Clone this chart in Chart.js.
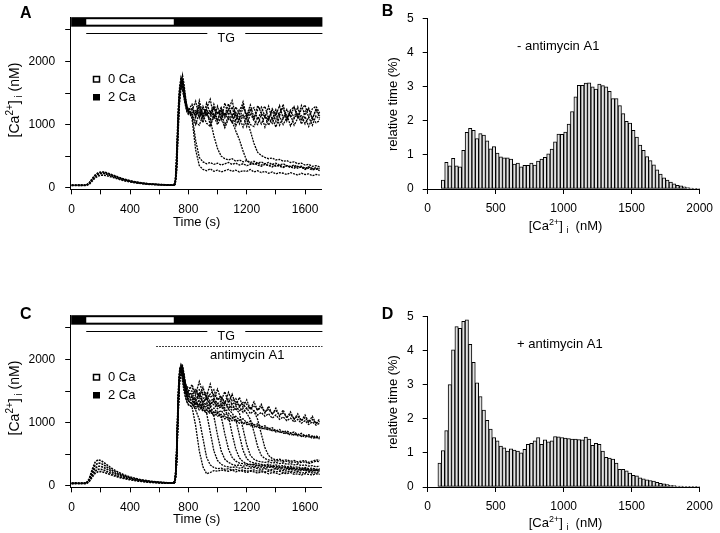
<!DOCTYPE html>
<html>
<head>
<meta charset="utf-8">
<script src="https://cdn.jsdelivr.net/npm/chart.js@4.4.1/dist/chart.umd.min.js"></script>
<style>
  body { margin: 0; background: #fff; }
  #page { position: relative; width: 720px; height: 533px; overflow: hidden; background: #fff; }
  canvas { position: absolute; }
  .t { position: absolute; white-space: nowrap; line-height: 1; color: #000;
       font-family: "Liberation Sans", Arial, sans-serif; font-size: 13px; }
  .letter { font-weight: bold; font-size: 16px; }
  .big { font-size: 14px; }
  .xt { transform: translateX(-50%); }
  .yt { transform: translate(-50%, -50%) rotate(-90deg); }
  .sup { font-size: 9px; position: relative; top: -5px; }
  .sub { font-size: 9px; position: relative; top: 3px; }
  .big .sup { font-size: 10px; top: -6px; }
  .big .sub { font-size: 10px; top: 3px; }
</style>
</head>
<body>
<div id="page">
  <canvas id="chartA" width="360" height="235" style="left:0;top:0"></canvas>
  <canvas id="chartB" width="360" height="235" style="left:360px;top:0"></canvas>
  <canvas id="chartC" width="360" height="235" style="left:0;top:298px"></canvas>
  <canvas id="chartD" width="360" height="235" style="left:360px;top:298px"></canvas>

  <div class="t letter" style="left:20px;top:4.6px">A</div>
  <div class="t letter" style="left:381.7px;top:2.9px">B</div>
  <div class="t letter" style="left:20px;top:306.2px">C</div>
  <div class="t letter" style="left:381.7px;top:306.2px">D</div>

  <div class="t yt big" style="left:13.5px;top:100px">[Ca<span class="sup">2+</span>]<span class="sub"> i</span> (nM)</div>
  <div class="t yt big" style="left:13.5px;top:398px">[Ca<span class="sup">2+</span>]<span class="sub"> i</span> (nM)</div>
  <div class="t xt" style="left:196.7px;top:215px">Time (s)</div>
  <div class="t xt" style="left:196.7px;top:512px">Time (s)</div>

  <div class="t yt" style="left:391.7px;top:104px">relative time (%)</div>
  <div class="t yt" style="left:391.7px;top:402px">relative time (%)</div>
  <div class="t xt" style="left:565.5px;top:219px">[Ca<span class="sup">2+</span>] <span class="sub">i</span>&nbsp; (nM)</div>
  <div class="t xt" style="left:565.5px;top:516px">[Ca<span class="sup">2+</span>] <span class="sub">i</span>&nbsp; (nM)</div>
</div>

<script>
// axis ticks
const traceXTicks = [0, 200, 400, 600, 800, 1000, 1200, 1400, 1600];
const traceXLabels = [0, 400, 800, 1200, 1600];
const traceYTicks = [0, 500, 1000, 1500, 2000, 2500];
const traceYLabels = [0, 1000, 2000];
const histXTicks = [0, 500, 1000, 1500, 2000];
const histYTicks = [0, 1, 2, 3, 4, 5];

// time grids (s)
const timePre = [0, 20, 40, 60, 80, 100, 120, 140, 160, 180, 200, 220, 240, 260, 280, 300, 320, 340,
  360, 380, 400, 420, 440, 460, 480, 500, 520, 540, 560, 580, 600, 620, 640, 660, 680, 700];
const timePost = [700, 710, 720, 730, 740, 750, 760, 770, 780, 790, 800, 825, 850, 875, 900, 925, 950,
  975, 1000, 1025, 1050, 1075, 1100, 1125, 1150, 1175, 1200, 1225, 1250, 1275, 1300, 1325, 1350,
  1375, 1400, 1425, 1450, 1475, 1500, 1525, 1550, 1575, 1600, 1625, 1650, 1675, 1700];

// panel A, 0 Ca phase (nM)
const preA1 = [40, 41, 40, 42, 40, 41, 75, 140, 200, 235, 250, 250, 238, 222, 204, 186, 168, 152, 137, 124, 112, 101, 92, 84, 77, 71, 66, 62, 58, 55, 52, 50, 48, 46, 45, 45];
const preA2 = [38, 40, 39, 38, 40, 39, 65, 125, 180, 212, 225, 226, 215, 200, 184, 168, 152, 138, 125, 113, 102, 93, 85, 78, 72, 66, 62, 58, 55, 52, 49, 47, 45, 44, 43, 44];
const preA3 = [36, 37, 36, 38, 37, 36, 55, 105, 155, 185, 198, 200, 192, 180, 166, 152, 138, 125, 113, 102, 93, 85, 78, 72, 66, 61, 57, 54, 51, 48, 46, 44, 42, 41, 40, 41];
const preA4 = [42, 40, 43, 41, 42, 43, 70, 135, 190, 222, 238, 240, 228, 212, 196, 178, 160, 146, 130, 118, 107, 97, 89, 81, 75, 69, 64, 60, 57, 54, 51, 49, 47, 46, 45, 46];

// panel A, after Ca readdition (nM)
const aH1 = [45, 60, 350, 1000, 1450, 1650, 1720, 1580, 1420, 1300, 1240, 1250, 1120, 1310, 1090, 1340, 1180, 1290, 1060, 1260, 1150, 1330, 1100, 1280, 1170, 1360, 1120, 1250, 1070, 1300, 1190, 1110, 1290, 1080, 1240, 1140, 1320, 1060, 1230, 1280, 1100, 1300, 1150, 1260, 1090, 1250, 1140];
const aH2 = [45, 80, 500, 1150, 1550, 1700, 1600, 1450, 1320, 1220, 1180, 1150, 1000, 1190, 1030, 1230, 990, 1170, 1060, 1210, 980, 1140, 1030, 1190, 1010, 1150, 970, 1180, 1060, 1000, 1160, 960, 1120, 1020, 1180, 990, 1110, 1160, 980, 1100, 1170, 1010, 1130, 970, 1110, 1030, 1060];
const aH3 = [40, 50, 250, 850, 1350, 1600, 1780, 1650, 1450, 1280, 1230, 1320, 1120, 1380, 1140, 1260, 1400, 1110, 1290, 1080, 1340, 1150, 1280, 1060, 1240, 1310, 1100, 1220, 1270, 1080, 1210, 1290, 1090, 1230, 1050, 1200, 1260, 1080, 1220, 1110, 1280, 1060, 1210, 1250, 1090, 1230, 1110];
const aH4 = [45, 70, 420, 1050, 1500, 1620, 1550, 1420, 1300, 1200, 1160, 1180, 1040, 990, 1150, 1020, 970, 1140, 1000, 1120, 950, 1090, 1150, 980, 1110, 960, 1130, 1000, 970, 1120, 1010, 1140, 990, 1100, 960, 1130, 1000, 1110, 1160, 990, 1100, 1140, 1010, 1120, 990, 1140, 1080];
const aH5 = [50, 90, 600, 1250, 1600, 1750, 1680, 1500, 1350, 1250, 1200, 1230, 1370, 1110, 1290, 1150, 1080, 1320, 1160, 1270, 1110, 1240, 1380, 1130, 1080, 1280, 1150, 1310, 1110, 1230, 1280, 1130, 1070, 1250, 1150, 1300, 1100, 1240, 1130, 1280, 1120, 1240, 1310, 1110, 1250, 1290, 1180];
const aD1 = [40, 55, 300, 950, 1400, 1580, 1650, 1520, 1380, 1260, 1220, 1100, 600, 350, 290, 270, 300, 260, 280, 250, 270, 290, 260, 280, 250, 270, 260, 290, 250, 270, 240, 260, 230, 250, 220, 240, 230, 210, 240, 220, 200, 230, 210, 220, 190, 210, 200];
const aD2 = [45, 65, 380, 1080, 1480, 1680, 1620, 1480, 1340, 1240, 1190, 1150, 750, 480, 410, 380, 400, 370, 390, 360, 380, 400, 370, 390, 360, 380, 350, 370, 390, 360, 340, 370, 350, 330, 360, 340, 320, 350, 330, 310, 340, 320, 300, 330, 310, 290, 310];
const aD3 = [50, 75, 450, 1100, 1520, 1640, 1700, 1560, 1400, 1280, 1210, 1200, 1150, 1230, 1120, 1180, 1080, 820, 620, 500, 460, 440, 460, 420, 440, 410, 430, 400, 420, 390, 410, 380, 400, 370, 390, 360, 380, 350, 340, 360, 330, 340, 310, 330, 300, 320, 290];
const aD4 = [45, 60, 320, 980, 1420, 1620, 1690, 1540, 1390, 1270, 1210, 1180, 1220, 1130, 1250, 1160, 1210, 1120, 1190, 1140, 1170, 1090, 1050, 900, 760, 580, 430, 390, 370, 390, 360, 380, 350, 370, 340, 360, 330, 350, 320, 340, 310, 330, 290, 310, 280, 300, 270];
const aD5 = [40, 70, 400, 1120, 1560, 1720, 1640, 1490, 1360, 1260, 1230, 1250, 1190, 1280, 1170, 1230, 1150, 1260, 1180, 1210, 1140, 1230, 1160, 1190, 1120, 1150, 1080, 900, 700, 560, 510, 480, 460, 470, 440, 450, 420, 430, 400, 410, 380, 390, 360, 370, 340, 350, 330];

// panel C, 0 Ca phase (nM)
const preC1 = [40, 42, 41, 40, 42, 41, 110, 250, 370, 410, 400, 370, 335, 300, 268, 240, 214, 192, 172, 155, 140, 126, 114, 103, 94, 86, 79, 73, 67, 62, 58, 54, 51, 48, 46, 45];
const preC2 = [38, 40, 39, 41, 40, 39, 95, 215, 320, 360, 355, 330, 300, 270, 242, 217, 195, 175, 158, 142, 128, 116, 105, 96, 88, 80, 74, 68, 63, 59, 55, 51, 48, 46, 44, 44];
const preC3 = [37, 38, 40, 38, 39, 38, 85, 185, 275, 310, 308, 290, 265, 240, 216, 194, 175, 158, 143, 129, 117, 106, 97, 89, 81, 75, 69, 64, 59, 55, 52, 49, 46, 44, 43, 43];
const preC4 = [36, 38, 37, 36, 38, 37, 75, 160, 230, 260, 262, 248, 228, 208, 188, 170, 154, 140, 127, 115, 105, 96, 88, 81, 74, 68, 63, 59, 55, 52, 49, 46, 44, 42, 41, 42];
const preC5 = [35, 36, 35, 37, 36, 35, 65, 135, 195, 222, 225, 214, 198, 182, 166, 151, 137, 125, 114, 104, 95, 87, 80, 74, 68, 63, 58, 54, 51, 48, 45, 43, 41, 40, 39, 40];

// panel C, after Ca readdition with antimycin A1 (nM)
const cU1 = [45, 90, 500, 1300, 1750, 1880, 1820, 1700, 1600, 1550, 1500, 1600, 1450, 1650, 1460, 1420, 1610, 1380, 1530, 1350, 1490, 1310, 1450, 1270, 1400, 1240, 1360, 1210, 1330, 1190, 1290, 1150, 1260, 1130, 1230, 1100, 1200, 1070, 1170, 1050, 1140, 1030, 1120, 1010, 1100, 980, 1060];
const cU2 = [40, 70, 420, 1200, 1700, 1850, 1900, 1780, 1620, 1520, 1460, 1450, 1520, 1400, 1560, 1380, 1450, 1520, 1360, 1420, 1300, 1480, 1340, 1380, 1260, 1330, 1290, 1220, 1270, 1200, 1240, 1170, 1210, 1140, 1190, 1120, 1150, 1090, 1130, 1060, 1100, 1030, 1080, 1000, 1050, 990, 1020];
const cU3 = [45, 100, 600, 1400, 1800, 1860, 1760, 1640, 1520, 1450, 1420, 1400, 1350, 1480, 1320, 1400, 1280, 1360, 1300, 1250, 1330, 1220, 1290, 1200, 1250, 1160, 1230, 1140, 1190, 1120, 1160, 1100, 1140, 1070, 1120, 1050, 1090, 1030, 1070, 1010, 1050, 990, 1030, 970, 1010, 960, 990];
const cL1 = [40, 80, 450, 1250, 1720, 1820, 1740, 1600, 1480, 1400, 1370, 1350, 1280, 1300, 1220, 1260, 1180, 1230, 1150, 1190, 1120, 1150, 1080, 1100, 1040, 1060, 1000, 1020, 960, 980, 930, 950, 900, 920, 870, 890, 850, 870, 830, 850, 810, 830, 790, 810, 770, 790, 760];
const cL2 = [45, 60, 350, 1100, 1650, 1800, 1880, 1720, 1550, 1420, 1340, 1300, 1220, 1260, 1180, 1200, 1140, 1170, 1100, 1130, 1060, 1090, 1030, 1050, 990, 1010, 970, 980, 930, 950, 900, 920, 880, 890, 850, 860, 830, 840, 800, 820, 790, 800, 770, 790, 750, 770, 740];
const cL3 = [40, 85, 520, 1350, 1780, 1840, 1700, 1560, 1420, 1330, 1280, 1250, 1300, 1200, 1240, 1150, 1190, 1110, 1150, 1080, 1110, 1040, 1080, 1010, 1040, 980, 1000, 950, 970, 920, 940, 890, 910, 870, 880, 850, 860, 820, 840, 800, 820, 780, 800, 770, 790, 750, 780];
const cD1 = [45, 110, 650, 1500, 1850, 1800, 1650, 1500, 1400, 1330, 1290, 1250, 950, 550, 300, 190, 210, 240, 230, 250, 240, 230, 250, 220, 240, 230, 210, 230, 220, 200, 220, 210, 190, 210, 200, 180, 200, 190, 210, 180, 190, 170, 190, 180, 170, 190, 180];
const cD2 = [40, 75, 400, 1200, 1700, 1870, 1820, 1680, 1520, 1420, 1350, 1300, 1200, 1050, 750, 450, 330, 290, 270, 280, 260, 270, 250, 260, 240, 250, 230, 240, 250, 230, 240, 220, 230, 240, 220, 230, 210, 220, 230, 210, 220, 200, 210, 220, 200, 210, 200];
const cD3 = [45, 95, 550, 1350, 1760, 1900, 1800, 1650, 1500, 1420, 1380, 1350, 1250, 1300, 1200, 1150, 850, 550, 400, 340, 310, 300, 290, 300, 280, 290, 270, 280, 290, 270, 260, 270, 250, 260, 270, 250, 240, 250, 260, 240, 230, 240, 250, 230, 220, 240, 230];
const cD4 = [40, 65, 380, 1150, 1680, 1830, 1860, 1740, 1580, 1470, 1420, 1400, 1300, 1350, 1250, 1300, 1200, 1100, 800, 550, 420, 370, 340, 320, 330, 310, 320, 300, 310, 290, 300, 280, 290, 300, 270, 280, 260, 270, 280, 260, 250, 260, 270, 250, 240, 260, 250];
const cD5 = [45, 100, 580, 1400, 1790, 1870, 1780, 1640, 1500, 1400, 1340, 1300, 1350, 1250, 1300, 1200, 1250, 1150, 1180, 1100, 820, 580, 450, 390, 360, 350, 340, 330, 340, 320, 330, 310, 320, 300, 310, 290, 300, 280, 290, 270, 280, 260, 270, 250, 260, 240, 250];
const cD6 = [40, 70, 420, 1250, 1730, 1840, 1810, 1700, 1580, 1500, 1470, 1450, 1380, 1420, 1330, 1380, 1300, 1340, 1250, 1280, 1200, 1100, 820, 580, 440, 380, 350, 340, 330, 320, 310, 320, 300, 310, 290, 300, 280, 290, 270, 280, 260, 270, 250, 260, 240, 250, 230];
const cD7 = [45, 85, 480, 1300, 1750, 1890, 1830, 1690, 1540, 1440, 1400, 1380, 1300, 1350, 1280, 1320, 1250, 1290, 1220, 1250, 1180, 1210, 1150, 1050, 800, 560, 430, 380, 360, 350, 340, 330, 340, 320, 330, 310, 320, 300, 310, 290, 300, 280, 290, 270, 280, 260, 270];
const cD8 = [40, 60, 330, 1100, 1640, 1800, 1870, 1760, 1600, 1500, 1450, 1420, 1350, 1400, 1320, 1370, 1290, 1330, 1260, 1300, 1230, 1260, 1190, 1220, 1150, 900, 650, 480, 420, 390, 380, 370, 380, 360, 370, 350, 360, 340, 350, 330, 340, 320, 330, 310, 320, 300, 310];
const cD9 = [45, 90, 520, 1380, 1800, 1880, 1800, 1680, 1580, 1530, 1510, 1500, 1420, 1460, 1380, 1420, 1340, 1380, 1300, 1340, 1270, 1300, 1230, 1260, 1190, 1220, 1150, 1050, 850, 620, 480, 430, 410, 400, 390, 400, 380, 390, 370, 380, 360, 370, 380, 350, 370, 390, 380];
const cD10 = [40, 75, 440, 1280, 1760, 1910, 1850, 1720, 1620, 1570, 1550, 1550, 1480, 1520, 1440, 1480, 1400, 1450, 1360, 1400, 1330, 1370, 1290, 1330, 1260, 1290, 1220, 1240, 1180, 1050, 820, 600, 480, 430, 410, 420, 400, 410, 390, 400, 380, 390, 400, 370, 390, 410, 400];

// histogram bins: left edge of each 25 nM bin
const binEdges = [75, 100, 125, 150, 175, 200, 225, 250, 275, 300, 325, 350, 375, 400, 425, 450, 475, 500,
  525, 550, 575, 600, 625, 650, 675, 700, 725, 750, 775, 800, 825, 850, 875, 900, 925, 950, 975, 1000,
  1025, 1050, 1075, 1100, 1125, 1150, 1175, 1200, 1225, 1250, 1275, 1300, 1325, 1350, 1375, 1400,
  1425, 1450, 1475, 1500, 1525, 1550, 1575, 1600, 1625, 1650, 1675, 1700, 1725, 1750, 1775, 1800,
  1825, 1850, 1875, 1900, 1925, 1950, 1975];
const binWidth = 25;

// relative time (%), - antimycin A1
const histB = [null, 0.26, 0.78, 0.68, 0.90, 0.68, 0.65, 1.13, 1.66, 1.78, 1.72, 1.48, 1.62, 1.58, 1.41, 1.18,
  1.24, 1.05, 0.94, 0.91, 0.91, 0.88, 0.73, 0.76, 0.65, 0.69, 0.69, 0.76, 0.70, 0.82, 0.88, 0.93, 1.03,
  1.17, 1.38, 1.61, 1.60, 1.67, 1.90, 2.27, 2.70, 3.04, 3.04, 3.10, 3.11, 2.99, 2.93, 3.07, 3.03, 2.99,
  2.86, 2.65, 2.65, 2.44, 2.21, 1.98, 1.93, 1.72, 1.52, 1.29, 1.13, 0.95, 0.83, 0.71, 0.56, 0.44, 0.33,
  0.26, 0.20, 0.15, 0.11, 0.09, 0.06, 0.04, 0.03, 0.02, 0.01];

// relative time (%), + antimycin A1
const histD = [0.70, 1.07, 1.65, 3.00, 4.02, 4.70, 4.65, 4.85, 4.90, 4.18, 3.65, 3.05, 2.65, 2.25, 1.95, 1.70,
  1.45, 1.35, 1.20, 1.15, 1.05, 1.12, 1.08, 1.05, 1.00, 1.10, 1.25, 1.28, 1.35, 1.45, 1.25, 1.38, 1.32,
  1.35, 1.48, 1.47, 1.45, 1.43, 1.42, 1.40, 1.40, 1.39, 1.38, 1.46, 1.40, 1.22, 1.28, 1.25, 1.05, 0.87,
  0.85, 0.82, 0.70, 0.52, 0.52, 0.47, 0.41, 0.34, 0.33, 0.27, 0.24, 0.21, 0.19, 0.17, 0.14, 0.11, 0.09,
  0.07, 0.05, 0.04, 0.03, 0.03, 0.02, 0.02, 0.02, 0.01, 0.01];

const FONT = '"Liberation Sans", Arial, sans-serif';
Chart.defaults.font.family = FONT;
Chart.defaults.font.size = 12;
Chart.defaults.color = "#000";

function traceSet(times, values, width) {
  return {
    data: times.map((t, i) => ({ x: t, y: values[i] })),
    borderColor: "#000",
    borderWidth: width,
    borderDash: [2, 1],
    pointRadius: 0,
    tension: 0,
    fill: false,
  };
}

function axisLook(tickValues, labelValues, tickPadding, fitSize, isX) {
  return {
    type: "linear",
    afterFit: (s) => {
      if (isX) s.height = fitSize;
      else s.width = fitSize;
    },
    afterBuildTicks: (s) => {
      s.ticks = tickValues.map((v) => ({ value: v }));
    },
    grid: { drawOnChartArea: false, drawTicks: true, tickLength: 5, color: "#000", lineWidth: 1, offset: false },
    border: { display: true, color: "#000", width: 1 },
    ticks: {
      padding: tickPadding,
      autoSkip: false,
      maxRotation: 0,
      color: "#000",
      callback: (v) => (labelValues.includes(v) ? String(v) : ""),
    },
  };
}

function traceDecor(withAntimycin) {
  return {
    id: "traceDecor",
    afterDraw(chart) {
      const { ctx, chartArea } = chart;
      const x = chart.scales.x;
      const y = chart.scales.y;
      const right = chartArea.right + 1;

      ctx.save();
      // solution bar: black = 2 Ca, white = 0 Ca
      const barTop = y.getPixelForValue(2700);
      const barBottom = y.getPixelForValue(2550);
      const barLeft = x.getPixelForValue(0) - 0.5;
      ctx.fillStyle = "#000";
      ctx.fillRect(barLeft, barTop, right - barLeft, barBottom - barTop);
      const w0 = x.getPixelForValue(100);
      const w1 = x.getPixelForValue(700);
      ctx.fillStyle = "#fff";
      ctx.fillRect(w0, barTop + 2, w1 - w0, barBottom - barTop - 4);

      // TG line
      const tgY = Math.round(y.getPixelForValue(2450)) + 0.5;
      ctx.strokeStyle = "#000";
      ctx.lineWidth = 1;
      ctx.beginPath();
      ctx.moveTo(x.getPixelForValue(100), tgY);
      ctx.lineTo(x.getPixelForValue(930), tgY);
      ctx.moveTo(x.getPixelForValue(1190), tgY);
      ctx.lineTo(right, tgY);
      ctx.stroke();
      ctx.fillStyle = "#000";
      ctx.font = "12.5px " + FONT;
      ctx.textAlign = "center";
      ctx.textBaseline = "alphabetic";
      ctx.fillText("TG", x.getPixelForValue(1060), tgY + 8.5);

      if (withAntimycin) {
        const amY = Math.round(y.getPixelForValue(2220)) + 0.5;
        ctx.setLineDash([1.5, 1.5]);
        ctx.beginPath();
        ctx.moveTo(x.getPixelForValue(580), amY);
        ctx.lineTo(right, amY);
        ctx.stroke();
        ctx.setLineDash([]);
        ctx.font = "13px " + FONT;
        ctx.textAlign = "left";
        ctx.fillText("antimycin A1", 210, 60.5);
      }

      // legend
      ctx.lineWidth = 1.5;
      ctx.strokeRect(93.5, 76.5, 6, 5.5);
      ctx.fillRect(93, 94, 7, 6.5);
      ctx.font = "13px " + FONT;
      ctx.textAlign = "left";
      ctx.fillText("0 Ca", 108, 83);
      ctx.fillText("2 Ca", 108, 101);
      ctx.restore();
    },
  };
}

function histDecor(label) {
  return {
    id: "histDecor",
    afterDraw(chart) {
      const { ctx } = chart;
      ctx.save();
      ctx.fillStyle = "#000";
      ctx.font = "13px " + FONT;
      ctx.textAlign = "left";
      ctx.textBaseline = "alphabetic";
      ctx.fillText(label, 157, 49.5);
      ctx.restore();
    },
  };
}

function traceChart(canvasId, preTraces, postTraces, withAntimycin) {
  const datasets = [
    ...postTraces.map((v) => traceSet(timePost, v, 1.3)),
    ...preTraces.map((v) => traceSet(timePre, v, 1.6)),
  ];
  return new Chart(document.getElementById(canvasId), {
    type: "line",
    data: { datasets },
    options: {
      responsive: false,
      animation: false,
      events: [],
      layout: { padding: { left: 20.2, right: 38.6, top: 9.5, bottom: 15.65 } },
      plugins: { legend: { display: false }, tooltip: { enabled: false } },
      scales: {
        x: { ...axisLook(traceXTicks, traceXLabels, 8, 30, true), min: -10, max: 1712 },
        y: { ...axisLook(traceYTicks, traceYLabels, 10, 50, false), min: -25, max: 2700 },
      },
    },
    plugins: [traceDecor(withAntimycin)],
  });
}

function histChart(canvasId, values, label) {
  return new Chart(document.getElementById(canvasId), {
    type: "bar",
    data: {
      datasets: [
        {
          data: binEdges.map((edge, i) => ({ x: edge + binWidth / 2, y: values[i] })),
          backgroundColor: "#e2e2e2",
          borderColor: "#000",
          borderWidth: 1,
          borderSkipped: false,
          barPercentage: 1,
          categoryPercentage: 1,
        },
      ],
    },
    options: {
      responsive: false,
      animation: false,
      events: [],
      layout: { padding: { left: 17.7, right: 16.3, top: 18.3, bottom: 16 } },
      plugins: { legend: { display: false }, tooltip: { enabled: false } },
      scales: {
        x: { ...axisLook(histXTicks, histXTicks, 7, 30, true), min: 0, max: 2000, offset: false },
        y: { ...axisLook(histYTicks, histYTicks, 9, 50, false), min: 0, max: 5 },
      },
    },
    plugins: [histDecor(label)],
  });
}

traceChart("chartA", [preA1, preA2, preA3, preA4], [aH1, aH2, aH3, aH4, aH5, aD1, aD2, aD3, aD4, aD5], false);
histChart("chartB", histB, "- antimycin A1");
traceChart("chartC", [preC1, preC2, preC3, preC4, preC5],
  [cU1, cU2, cU3, cL1, cL2, cL3, cD1, cD2, cD3, cD4, cD5, cD6, cD7, cD8, cD9, cD10], true);
histChart("chartD", histD, "+ antimycin A1");
</script>
</body>
</html>
